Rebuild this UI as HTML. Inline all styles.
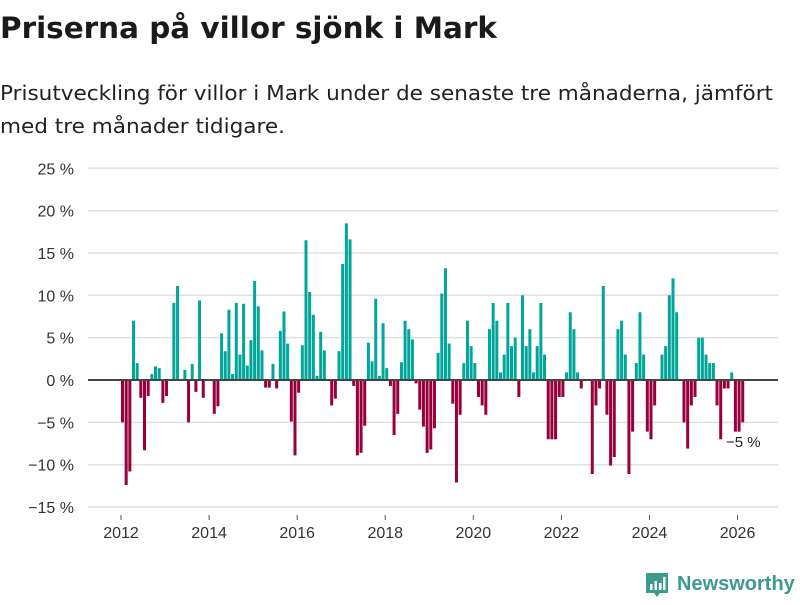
<!DOCTYPE html>
<html><head><meta charset="utf-8">
<style>
body{margin:0;background:#fff;width:800px;height:600px;overflow:hidden;font-family:"Liberation Sans","DejaVu Sans",sans-serif;}
</style></head>
<body>
<svg width="800" height="600" xmlns="http://www.w3.org/2000/svg" id="chart">
<text x="0" y="38" font-size="29" font-weight="bold" fill="#1a1a1a" font-family="DejaVu Sans, sans-serif" textLength="497" lengthAdjust="spacingAndGlyphs">Priserna på villor sjönk i Mark</text>
<text x="0" y="100" font-size="20" fill="#222" font-family="DejaVu Sans, sans-serif" textLength="773" lengthAdjust="spacingAndGlyphs">Prisutveckling för villor i Mark under de senaste tre månaderna, jämfört</text>
<text x="0" y="133" font-size="20" fill="#222" font-family="DejaVu Sans, sans-serif" textLength="285" lengthAdjust="spacingAndGlyphs">med tre månader tidigare.</text>
<g id="grid"></g><g id="bars"></g><g id="axes"></g>
<g>
<path d="M646 573 h22 v20 h-8 l-3 4 l-3 -4 h-8 z" fill="#3c9a8f"/>
<rect x="650" y="584" width="2.5" height="6" fill="#fff"/><rect x="654.5" y="581" width="2.5" height="9" fill="#fff"/><rect x="659" y="583" width="2.5" height="7" fill="#fff"/><rect x="663" y="577" width="2.5" height="13" fill="#fff"/>
<text x="677" y="590" font-size="20" font-weight="bold" fill="#3c9a8f">Newsworthy</text>
</g>
</svg>
<script>
const startYear = 2012;
const values = [-5,-12.4,-10.8,7.0,2.0,-2.1,-8.3,-1.9,0.7,1.6,1.4,-2.7,-1.9,0,9.1,11.1,0,1.2,-5.0,1.9,-1.4,9.4,-2.1,0,0,-4.0,-3.1,5.5,3.4,8.3,0.7,9.1,3.0,9.0,1.7,4.7,11.7,8.7,3.5,-0.9,-0.9,1.9,-1.0,5.8,8.1,4.3,-4.9,-8.9,-1.5,4.1,16.5,10.4,7.7,0.5,5.7,3.5,0,-3.0,-2.2,3.4,13.7,18.5,16.6,-0.7,-8.9,-8.6,-5.4,4.4,2.2,9.6,0.5,6.7,1.4,-0.7,-6.5,-4.0,2.1,7.0,6.0,4.8,-0.4,-3.5,-5.5,-8.6,-8.2,-5.7,3.2,10.2,13.2,4.3,-2.8,-12.1,-4.1,2.0,7.0,4.0,2.0,-2.0,-3.0,-4.1,6.0,9.1,7.0,0.9,3.0,9.1,4.0,5.0,-2.0,10.0,4.0,6.0,0.9,4.0,9.1,3.0,-7,-7,-7,-2,-2,0.9,8,6,0.9,-1,0,0,-11.1,-3,-1,11.1,-4.1,-10.1,-9.1,6,7,3,-11.1,-6.1,2,8,3,-6.1,-7,-3,0,3,4,10,12,8,0,-5,-8.1,-3,-2,5,5,3,2,2,-3,-7,-1,-1,0.9,-6.1,-6.1,-5];
const yTicks = [25,20,15,10,5,0,-5,-10,-15];
const xTicks = [2012,2014,2016,2018,2020,2022,2024,2026];
const lastLabel = "\u22125 %";
const NS="http://www.w3.org/2000/svg";
const x0=121, mw=3.67, y0=380, py=8.47;
function xs(i){return x0+i*mw;}
function xYear(y){return x0+(y-startYear)*12*mw;}
function ys(v){return y0-v*py;}
function mk(tag,attrs,parent){const e=document.createElementNS(NS,tag);for(const k in attrs)e.setAttribute(k,attrs[k]);parent.appendChild(e);return e;}
const grid=document.getElementById('grid'),bars=document.getElementById('bars'),axes=document.getElementById('axes');
yTicks.forEach(t=>{
  const l=mk('line',{x1:88,x2:778,y1:ys(t),y2:ys(t),stroke:'#e0e0e0','stroke-width':1.5},grid);
  
  
  const tx=mk('text',{x:74,y:ys(t)+6,'text-anchor':'end','font-size':16,fill:'#333'},axes);
  tx.textContent=(t<0?'\u2212'+(-t):t)+' %';
  
  
});
values.forEach((v,i)=>{
  const top=Math.min(ys(v),y0), h=Math.abs(ys(v)-y0);
  const r=mk('rect',{x:xs(i),y:top,width:3,height:h,fill:v>=0?'#00a69a':'#98003c'},bars);
  
  
});
const zl=mk('line',{x1:88,x2:778,y1:y0,y2:y0,stroke:'#444','stroke-width':2},axes);


xTicks.forEach(y=>{
  const tk=mk('line',{x1:xYear(y),x2:xYear(y),y1:515,y2:520,stroke:'#555'},axes);
  
  
  const tx=mk('text',{x:xYear(y),y:538,'text-anchor':'middle','font-size':16,fill:'#333'},axes);
  tx.textContent=y;
  
  
});
const lb=mk('text',{x:726,y:447,'font-size':15,fill:'#222'},axes);
lb.textContent=lastLabel;


</script>
</body></html>
